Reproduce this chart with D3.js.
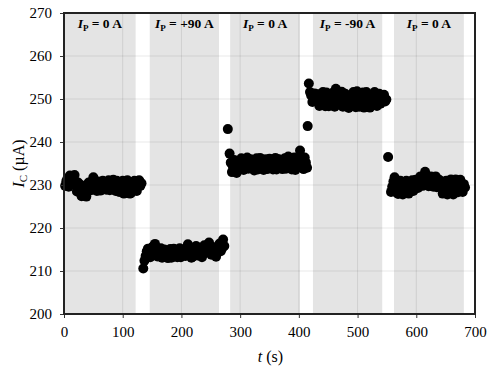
<!DOCTYPE html>
<html lang="en">
<head>
<meta charset="utf-8">
<title>IC vs t</title>
<script src="https://cdn.jsdelivr.net/npm/d3@7"></script>
<style>
  body { margin: 0; background: #fff; }
  text { font-family: "Times New Roman", "Liberation Serif", Times, serif; }
</style>
</head>
<body>
<script>

// shaded current periods (t in s) and their labels
var periodStart = [0, 146, 283, 424, 562];
var periodEnd = [122, 264, 402, 542, 681];
var periodLabel = ["0 A", "+90 A", "0 A", "-90 A", "0 A"];

var xTicks = [0, 100, 200, 300, 400, 500, 600, 700];
var yTicks = [200, 210, 220, 230, 240, 250, 260, 270];

var tSeg1 = [2, 4, 6, 8, 10, 12, 14, 16, 18, 20, 22, 24, 26, 28, 30, 32, 34, 36, 38, 40, 42, 44, 46, 48, 50, 52, 54, 56, 58, 60, 62, 64, 66, 68, 70, 72, 74, 76, 78, 80, 82, 84, 86, 88, 90, 92, 94, 96, 98, 100, 102, 104, 106, 108, 110, 112, 114, 116, 118, 120, 122, 124, 126, 128, 130, 132];
var icSeg1 = [229.8, 230.9, 231.5, 229.6, 232.2, 231.0, 230.5, 231.7, 232.3, 229.9, 228.5, 230.6, 230.2, 228.4, 227.4, 229.8, 229.0, 228.1, 227.3, 229.3, 230.6, 229.9, 228.8, 230.4, 231.8, 230.7, 229.4, 228.6, 230.8, 229.9, 228.7, 229.5, 231.0, 230.3, 229.8, 228.9, 230.5, 231.1, 228.8, 229.7, 230.9, 231.2, 229.6, 228.6, 231.0, 230.1, 228.4, 229.5, 230.6, 231.0, 228.0, 229.3, 230.8, 231.1, 229.2, 228.0, 228.1, 229.9, 230.7, 231.0, 229.5, 228.6, 230.8, 231.1, 229.8, 230.4];

var tSeg2 = [135, 137, 139, 141, 143, 145, 147, 149, 151, 153, 155, 157, 159, 161, 163, 165, 167, 169, 171, 173, 175, 177, 179, 181, 183, 185, 187, 189, 191, 193, 195, 197, 199, 201, 203, 205, 207, 209, 211, 213, 215, 217, 219, 221, 223, 225, 227, 229, 231, 233, 235, 237, 239, 241, 243, 245, 247, 249, 251, 253, 255, 257, 259, 261, 263, 265, 267, 269, 271, 273];
var icSeg2 = [210.6, 212.4, 213.5, 214.6, 215.2, 213.9, 213.2, 215.4, 214.8, 215.9, 216.3, 214.6, 213.4, 213.9, 214.9, 215.3, 213.1, 214.2, 215.0, 214.7, 213.6, 213.0, 214.4, 215.1, 213.1, 214.0, 215.2, 214.6, 213.8, 213.2, 214.5, 215.3, 213.2, 214.1, 215.0, 214.5, 213.5, 214.8, 216.2, 215.1, 214.0, 213.1, 213.3, 214.4, 215.1, 215.8, 213.6, 214.2, 215.4, 214.7, 213.2, 214.9, 216.0, 215.2, 214.3, 215.7, 216.6, 215.0, 213.8, 214.6, 215.5, 214.2, 213.3, 214.8, 215.8, 216.4, 214.6, 215.2, 217.3, 215.8];

var tSeg3 = [279, 282, 284, 286, 288, 290, 292, 294, 296, 298, 300, 302, 304, 306, 308, 310, 312, 314, 316, 318, 320, 322, 324, 326, 328, 330, 332, 334, 336, 338, 340, 342, 344, 346, 348, 350, 352, 354, 356, 358, 360, 362, 364, 366, 368, 370, 372, 374, 376, 378, 380, 382, 384, 386, 388, 390, 392, 394, 396, 398, 400, 402, 404, 406, 408, 410, 412, 414];
var icSeg3 = [243.0, 237.3, 235.2, 233.0, 234.1, 235.8, 234.6, 232.8, 233.9, 234.5, 235.7, 236.2, 234.8, 233.5, 234.2, 235.3, 236.4, 233.8, 234.6, 236.0, 235.1, 234.2, 233.4, 235.5, 236.2, 233.6, 234.5, 236.3, 235.2, 234.0, 233.5, 235.0, 236.0, 233.7, 234.8, 236.1, 235.4, 234.3, 233.6, 235.6, 236.3, 233.6, 234.9, 236.0, 235.1, 234.5, 233.7, 235.2, 236.2, 233.8, 234.7, 236.6, 235.3, 234.2, 233.6, 235.5, 236.4, 233.5, 234.6, 236.1, 235.0, 238.0, 236.6, 234.3, 233.7, 236.4, 235.2, 234.0];

var tSeg4 = [415, 417, 419, 421, 423, 425, 427, 429, 431, 433, 435, 437, 439, 441, 443, 445, 447, 449, 451, 453, 455, 457, 459, 461, 463, 465, 467, 469, 471, 473, 475, 477, 479, 481, 483, 485, 487, 489, 491, 493, 495, 497, 499, 501, 503, 505, 507, 509, 511, 513, 515, 517, 519, 521, 523, 525, 527, 529, 531, 533, 535, 537, 539, 541, 543, 545, 547, 549];
var icSeg4 = [243.7, 253.6, 251.6, 250.8, 249.3, 250.2, 251.3, 249.6, 250.0, 251.1, 248.4, 249.5, 250.9, 251.6, 249.0, 248.3, 251.5, 250.4, 248.3, 249.6, 250.3, 251.4, 249.2, 248.2, 252.4, 251.0, 248.7, 249.9, 250.6, 251.7, 248.2, 249.4, 251.2, 250.1, 249.5, 247.9, 248.6, 250.7, 250.8, 251.6, 249.1, 248.1, 251.8, 250.6, 248.2, 249.3, 250.4, 251.5, 248.0, 249.2, 251.6, 250.6, 249.7, 248.0, 248.3, 249.8, 250.9, 251.6, 249.0, 248.4, 250.4, 251.2, 248.9, 249.5, 250.5, 251.0, 249.4, 249.9];

var tSeg5 = [552, 557, 559, 561, 563, 565, 567, 569, 571, 573, 575, 577, 579, 581, 583, 585, 587, 589, 591, 593, 595, 597, 599, 601, 603, 605, 607, 609, 611, 613, 615, 617, 619, 621, 623, 625, 627, 629, 631, 633, 635, 637, 639, 641, 643, 645, 647, 649, 651, 653, 655, 657, 659, 661, 663, 665, 667, 669, 671, 673, 675, 677, 679, 681, 683];
var icSeg5 = [236.5, 228.4, 229.6, 230.8, 231.8, 230.2, 228.2, 227.9, 230.0, 231.0, 229.1, 227.8, 228.6, 229.8, 231.0, 230.4, 228.0, 228.7, 230.3, 231.1, 228.6, 229.5, 231.2, 230.0, 229.3, 230.5, 232.0, 231.2, 229.8, 230.6, 233.1, 232.2, 230.5, 229.7, 231.6, 232.0, 230.2, 229.6, 231.1, 232.0, 229.5, 230.4, 231.2, 229.8, 230.8, 228.0, 228.6, 230.6, 231.0, 227.8, 229.0, 230.4, 231.3, 228.6, 227.8, 229.7, 231.3, 229.4, 228.3, 230.9, 231.2, 229.0, 228.4, 230.2, 229.4];

var w = 498, h = 372;
var margin = {top: 13, right: 23, bottom: 58, left: 64};

var svg = d3.select("body").append("svg")
    .attr("width", w)
    .attr("height", h);

var x = d3.scaleLinear().domain([0, 700]).range([margin.left, w - margin.right]);
var y = d3.scaleLinear().domain([200, 270]).range([h - margin.bottom, margin.top]);

// shading
svg.selectAll("rect.period")
    .data(periodStart)
    .enter().append("rect")
    .attr("class", "period")
    .attr("x", function(d) { return x(d); })
    .attr("y", y(270))
    .attr("width", function(d, i) { return x(periodEnd[i]) - x(d); })
    .attr("height", y(200) - y(270))
    .attr("fill", "#e4e4e4");

// gridlines
svg.append("g").selectAll("line")
    .data(xTicks.slice(1, -1))
    .enter().append("line")
    .attr("x1", function(d) { return x(d); })
    .attr("x2", function(d) { return x(d); })
    .attr("y1", y(270)).attr("y2", y(200))
    .attr("stroke", "rgba(0,0,0,0.09)");

svg.append("g").selectAll("line")
    .data(yTicks.slice(1, -1))
    .enter().append("line")
    .attr("y1", function(d) { return y(d); })
    .attr("y2", function(d) { return y(d); })
    .attr("x1", x(0)).attr("x2", x(700))
    .attr("stroke", "rgba(0,0,0,0.09)");

// period labels
var lab = svg.append("g").selectAll("text")
    .data(periodLabel)
    .enter().append("text")
    .attr("x", function(d, i) { return x((periodStart[i] + periodEnd[i]) / 2); })
    .attr("y", 28)
    .attr("text-anchor", "middle")
    .attr("font-size", 13.5)
    .attr("font-weight", "bold");
lab.append("tspan").attr("font-style", "italic").text("I");
lab.append("tspan").attr("font-size", 9).attr("dy", 3).text("P");
lab.append("tspan").attr("dy", -3).text(function(d) { return " = " + d; });

// points
var pts = [];
[[tSeg1, icSeg1], [tSeg2, icSeg2], [tSeg3, icSeg3], [tSeg4, icSeg4], [tSeg5, icSeg5]].forEach(function(s) {
    s[0].forEach(function(t, i) { pts.push({t: t, v: s[1][i]}); });
});

svg.append("g").selectAll("circle")
    .data(pts)
    .enter().append("circle")
    .attr("cx", function(d) { return x(d.t); })
    .attr("cy", function(d) { return y(d.v); })
    .attr("r", 5)
    .attr("fill", "#000");

// axes
var xAxis = svg.append("g")
    .attr("transform", "translate(0," + y(200) + ")")
    .call(d3.axisBottom(x).tickValues(xTicks).tickSize(4).tickPadding(8));
var yAxis = svg.append("g")
    .attr("transform", "translate(" + x(0) + ",0)")
    .call(d3.axisLeft(y).tickValues(yTicks).tickSize(4).tickPadding(8));

[xAxis, yAxis].forEach(function(a) {
    a.attr("font-family", null);
    a.select(".domain").remove();
    a.selectAll("text").attr("font-size", 15).attr("fill", "#000");
    a.selectAll("line").attr("stroke", "#333");
});

// frame
svg.append("rect")
    .attr("x", x(0)).attr("y", y(270))
    .attr("width", x(700) - x(0)).attr("height", y(200) - y(270))
    .attr("fill", "none")
    .attr("stroke", "#222")
    .attr("stroke-width", 2);

// axis titles
var xt = svg.append("text")
    .attr("x", (x(0) + x(700)) / 2 + 1)
    .attr("y", 362)
    .attr("text-anchor", "middle")
    .attr("font-size", 16);
xt.append("tspan").attr("font-style", "italic").text("t");
xt.append("tspan").text(" (s)");

var yt = svg.append("text")
    .attr("transform", "translate(24," + y(235) + ") rotate(-90)")
    .attr("text-anchor", "middle")
    .attr("font-size", 16);
yt.append("tspan").attr("font-style", "italic").text("I");
yt.append("tspan").attr("font-size", 11).attr("dy", 3).text("C");
yt.append("tspan").attr("dy", -3).text(" (\u00b5A)");

</script>
</body>
</html>
